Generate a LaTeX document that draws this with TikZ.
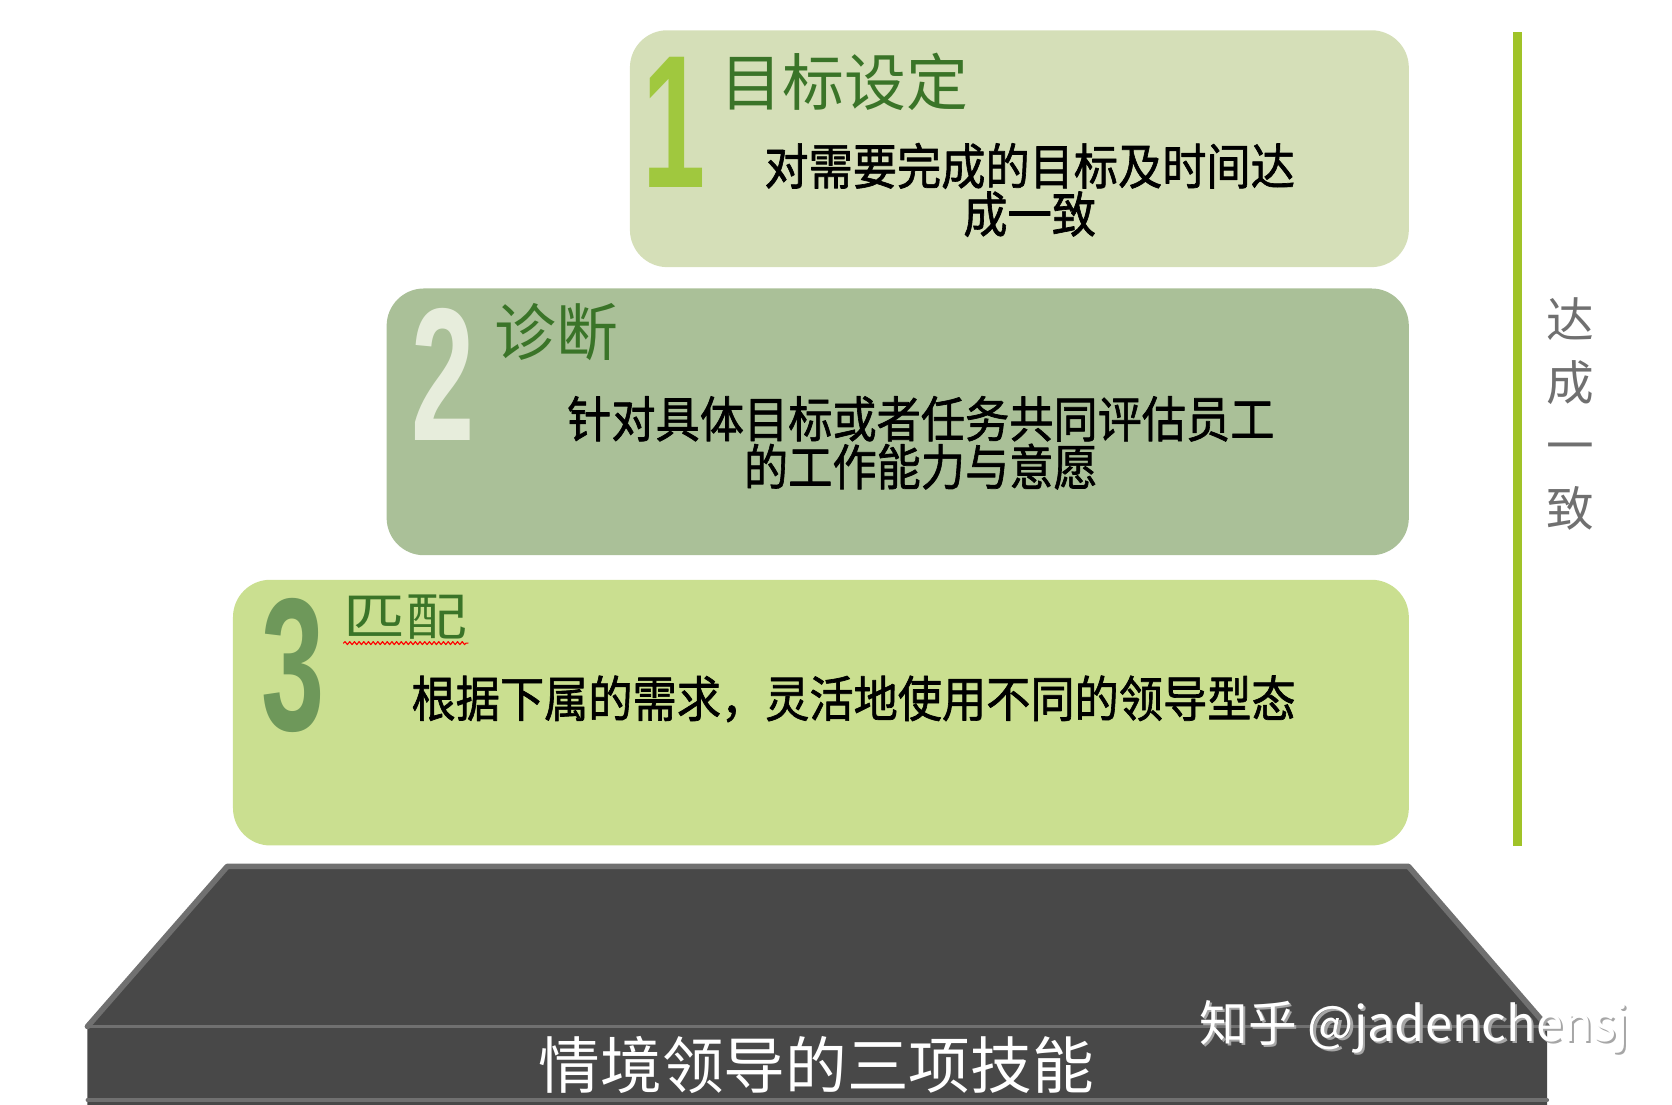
\documentclass[tikz,border=0pt]{standalone}
\usepackage{fontspec}
\newfontfamily\cjk{Noto Sans CJK SC}
\newfontfamily\cjkbody[FakeBold=1.4]{Noto Sans CJK SC}
\newfontfamily\numfont{Liberation Sans}
\usetikzlibrary{positioning,decorations.pathmorphing}
\definecolor{boxone}{RGB}{213,223,184}
\definecolor{boxtwo}{RGB}{170,192,152}
\definecolor{boxthree}{RGB}{202,223,144}
\definecolor{numone}{RGB}{160,200,62}
\definecolor{numtwo}{RGB}{231,237,220}
\definecolor{numthree}{RGB}{110,152,90}
\definecolor{titlegreen}{RGB}{58,116,40}
\definecolor{barlime}{RGB}{160,195,40}
\definecolor{basegray}{RGB}{72,72,72}
\definecolor{edgegray}{RGB}{112,112,112}
\definecolor{sidegray}{RGB}{112,112,112}
\newcommand{\narrow}[1]{\scalebox{0.9}[1]{#1}}
\tikzset{
  stepbox/.style={rounded corners=0.7cm, anchor=north west, inner sep=0pt},
  num/.style={font=\numfont\bfseries\fontsize{101}{101}\selectfont, inner sep=0pt},
  title/.style={anchor=west, text=titlegreen, font=\cjk\fontsize{33}{36}\selectfont, inner sep=0pt},
  body/.style={align=center, font=\cjkbody\fontsize{26.2}{25.6}\selectfont, inner sep=0pt}
}
\begin{document}
\begin{tikzpicture}[x=0.02cm, y=-0.02cm, font=\cjk, line join=round, line cap=round]
		\useasboundingbox (0,0) rectangle (1567,1034.7);
		% the three steps
		\foreach \n/\xl/\yt/\yb/\col in {1/590/28/250/boxone,2/362/270/520/boxtwo,3/218/543/792/boxthree}
		\node[stepbox, fill=\col, minimum width=(1320-\xl)*0.02cm, minimum height=(\yb-\yt)*0.02cm] (box\n) at (\xl,\yt) {};
		\node[num, text=numone] (n1) at (632,115) {\scalebox{0.6}[1]{1}};
		\node[num, text=numtwo] (n2) at (415,351) {\scalebox{0.6}[1]{2}};
		\node[num, text=numthree] (n3) at (275,624) {\scalebox{0.6}[1]{3}};
		\node[title] (t1) at (675,77) {目标设定};
		\node[title] (t2) at (463,311) {诊断};
		\node[title] (t3) at (322,578) {\scalebox{1}[0.82]{匹配}};
		\draw[red, line width=0.6pt, decorate, decoration={snake, amplitude=0.8pt, segment length=2.5pt}] ([yshift=-2pt]t3.south west) -- ([yshift=-2pt]t3.south east);
		\node[body] (b1) at (965,178) {\narrow{对需要完成的目标及时间达}\\\narrow{成一致}};
		\node[body] (b2) at (863,415) {\narrow{针对具体目标或者任务共同评估员工}\\\narrow{的工作能力与意愿}};
		\node[body] (b3) at (800,655) {\narrow{根据下属的需求，灵活地使用不同的领导型态}};
		% side bar
		\coordinate (bartop) at (1422,30);
		\coordinate (barbot) at (1422,793);
		\draw[barlime, line width=0.16cm, line cap=butt] (bartop) -- (barbot);
		\node[align=center, text=sidegray, font=\cjk\fontsize{25.4}{33.6}\selectfont] (side) at (1472,388) {达\\成\\一\\致};
		% base
		\fill[basegray] (213,812) -- (1320,812) -- (1450,962) -- (1450,1040) -- (82,1040) -- (82,962) -- cycle;
		\draw[edgegray, line width=3pt] (82,962) -- (213,812) -- (1320,812) -- (1450,962);
		\draw[edgegray, line width=2pt] (82,962) -- (1450,962);
		\draw[edgegray, line width=2pt] (82,1031) -- (1450,1031);
		\node[text=white, font=\cjk\fontsize{32.9}{36}\selectfont] (base) at (765,998) {情境领导的三项技能};
		\node[anchor=west, text=gray!70, font=\cjk\fontsize{26}{30}\selectfont] (wmshadow) at (1120,964) {知乎 @jadenchensj};
		\node[anchor=west, text=white, font=\cjk\fontsize{26}{30}\selectfont] (wm) at (1118,962) {知乎 @jadenchensj};
	\end{tikzpicture}
\end{document}
